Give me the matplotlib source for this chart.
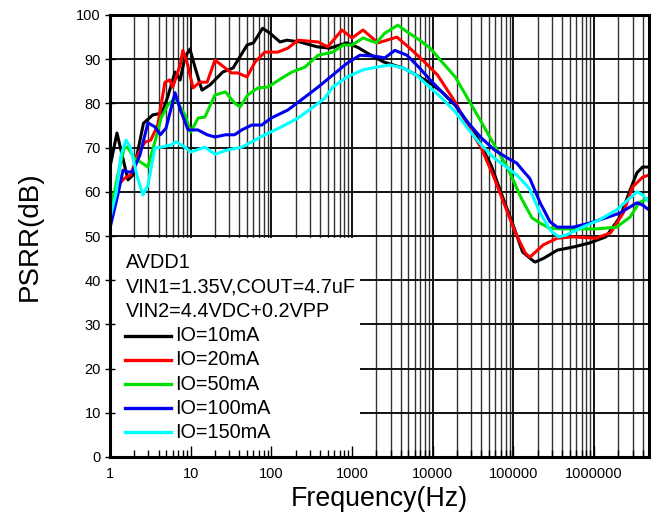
import matplotlib
matplotlib.use("Agg")
import matplotlib.pyplot as plt
from matplotlib.patches import Rectangle
from matplotlib.ticker import LogLocator, NullFormatter, FixedLocator

plt.rcParams['font.family'] = ['Liberation Sans', 'DejaVu Sans']

# ---------------- data ----------------
f_10 = [1, 1.22, 1.67, 1.93, 2.2, 2.6, 3.4, 4.4, 5.2, 6.4, 7.4, 8.5, 9.8, 11.3, 13.8, 17.4, 25, 33.5,
        50, 60, 78, 96, 128, 156, 226, 370, 530, 860, 1200, 1540, 2450, 4300, 6300, 9300, 13000,
        19000, 33000, 53000, 72000, 96000, 130000, 170000, 186000, 240000, 350000, 550000, 870000,
        1.4e6, 2.1e6, 2.8e6, 3.4e6, 4e6, 4.8e6]
p_10 = [65.6, 73.3, 62.7, 63.8, 69, 75.5, 77.4, 77.8, 81.5, 87.1, 85.3, 90.5, 92.3, 88.2, 83, 84.2, 87.1, 88,
        93.2, 93.7, 97, 95.9, 93.9, 94.3, 93.9, 92.8, 92.5, 93.7, 92.6, 91.4, 89.4, 88, 86.4, 84.6, 82.6,
        79.6, 73.5, 66, 59.3, 53.2, 46.4, 44.6, 44.1, 45, 46.8, 47.5, 48.4,
        49.8, 54.3, 60.4, 64.3, 65.6, 65.6]

f_20 = [1, 1.25, 1.5, 1.8, 2.2, 2.7, 3.2, 3.9, 4.8, 5.5, 6.0, 7.4, 8.0, 9.2, 10.7, 13, 16, 20, 32, 38,
        50, 63, 83, 120, 160, 215, 285, 380, 500, 750, 1000, 1370, 2100, 3600, 5200, 7900, 11500,
        19000, 27000, 40000, 58000, 78000, 105000, 140000, 160000, 235000, 350000, 550000, 1.05e6,
        1.6e6, 2.3e6, 3e6, 4e6, 4.8e6]
p_20 = [57, 61.5, 63, 63.8, 68.3, 71.2, 71.7, 75.1, 84.8, 85.3, 83.7, 88.7, 92, 88.7, 83.5, 84.8, 84.8, 89.8, 86.9, 86.9,
        86, 89.4, 91.6, 91.6, 92.5, 94.3, 94.1, 93.9, 92.8, 96.6, 94.8, 96.6, 93.7, 95, 92.5, 89.4, 86.4,
        80.3, 75.1, 69.9, 63.1, 57, 50.9, 46.2, 45.2, 48, 49.5, 49.8, 49.5,
        50.7, 55.2, 61.1, 63.3, 63.8]

f_50 = [1, 1.25, 1.5, 1.65, 2, 2.4, 2.95, 3.6, 4.3, 5.2, 6.4, 8.5, 10, 12.4, 15, 20, 27, 35, 41, 51, 68,
        91, 134, 180, 260, 380, 575, 780, 1000, 1370, 2000, 2550, 3700, 4800, 6900, 9300, 13000,
        19000, 27000, 40000, 58000, 85000, 125000, 170000, 215000, 280000, 400000, 1.05e6, 1.9e6,
        2.8e6, 3.6e6, 4.8e6]
p_50 = [54.8, 63.8, 69.9, 70.1, 67.6, 66.7, 65.6, 71.3, 76.7, 79.6, 81.2, 77.4, 73.5, 76.7, 76.9, 81.9, 82.6, 80.1, 79.2, 81.9, 83.5,
        83.7, 85.7, 87.1, 88.2, 90.9, 91.6, 93.2, 93.2, 94.8, 93.7, 95.9, 97.7, 96.2, 94.3, 92.5, 89.4,
        86, 81.2, 75.8, 70.6, 65.4, 58.6, 54.1, 52.9, 51.8, 51.6, 51.6, 52,
        54.3, 57.5, 58.6]

f_100 = [1, 1.25, 1.45, 1.65, 1.9, 2.35, 2.95, 3.6, 4.2, 4.95, 6.4, 7.6, 9.3, 12.3, 16, 20, 27, 35, 43, 57,
         76, 100, 160, 260, 380, 575, 870, 1250, 1900, 2550, 3400, 4800, 6900, 9300, 13000, 19000,
         27000, 40000, 58000, 85000, 110000, 130000, 160000, 215000, 285000, 350000, 550000, 870000,
         1.4e6, 2.1e6, 2.8e6, 3.4e6, 4e6, 4.8e6]
p_100 = [51.8, 59.3, 64.9, 64.5, 64.5, 68.3, 75.6, 74.7, 72.9, 74.4, 82.4, 78.1, 74, 74, 72.9, 72.4, 72.9, 72.9, 74, 75.1,
         75.1, 76.7, 78.5, 81.4, 83.7, 86.4, 89.1, 90.9, 90.7, 90.3, 92, 90.9, 88, 85.3, 82.6, 79.6,
         75.8, 72.2, 69.5, 67.6, 66.5, 64.9, 63, 57.5, 53.2, 52, 52, 52.9,
         54.1, 55.2, 56.6, 57.5, 57, 55.9]

f_150 = [1, 1.2, 1.37, 1.58, 1.8, 2.2, 2.56, 2.95, 3.6, 4.3, 5.7, 6.6, 8.5, 10, 15, 20, 29, 43, 57, 83,
         134, 215, 320, 460, 575, 870, 1370, 2000, 2950, 4300, 6300, 9000, 13000, 19000, 27000,
         40000, 58000, 85000, 110000, 145000, 160000, 215000, 285000, 360000, 450000, 720000,
         1.15e6, 1.9e6, 2.8e6, 3.4e6, 4e6, 4.8e6]
p_150 = [54, 60, 68.3, 71.7, 69.9, 63.1, 59.3, 61.5, 69.9, 70.1, 70.6, 71.3, 70.1, 69, 70.1, 68.5, 69.5, 70.1, 71.3, 72.9,
         74.7, 76.7, 79, 81.2, 83.7, 86, 87.6, 88.2, 88.7, 88, 86.4, 83.8, 81.2, 78.1, 74.4,
         70.6, 67.6, 65.4, 63.8, 61.5, 60.5, 55.2, 51.4, 49.8, 50.2, 52,
         53.6, 55.9, 58.6, 60, 59.3, 57.7]

series_labels = ["IO=10mA", "IO=20mA", "IO=50mA", "IO=100mA", "IO=150mA"]
series_colors = ["#000000", "#ff0000", "#00e000", "#0000ee", "#00ffff"]
header_lines = ["AVDD1", "VIN1=1.35V,COUT=4.7uF", "VIN2=4.4VDC+0.2VPP"]
x_ticks = [1, 10, 100, 1000, 10000, 100000, 1000000]
x_tick_labels = ["1", "10", "100", "1000", "10000", "100000", "1000000"]
y_ticks = [0, 10, 20, 30, 40, 50, 60, 70, 80, 90, 100]

xmin, xmax = 1, 4.8e6

# ---------------- figure ----------------
fig = plt.figure(figsize=(6.6, 5.23), dpi=100)
rect = [110/660, 1 - 457/523, 539/660, 442/523]

# background axes for the grid
gax = fig.add_axes(rect, zorder=0)
gax.set_xscale('log')
gax.set_xlim(xmin, xmax)
gax.set_ylim(0, 100)
gax.xaxis.set_major_locator(FixedLocator(x_ticks))
gax.xaxis.set_minor_locator(LogLocator(base=10, subs=range(2, 10), numticks=20))
gax.yaxis.set_major_locator(FixedLocator(y_ticks))
gax.grid(True, which='major', axis='both', color='#111111', lw=1.4)
gax.grid(True, which='minor', axis='x', color='#333333', lw=1.0)
gax.tick_params(which='both', length=0, labelbottom=False, labelleft=False)
for s in gax.spines.values():
    s.set_visible(False)

# main axes
ax = fig.add_axes(rect, zorder=1)
ax.patch.set_alpha(0)
ax.set_xscale('log')
ax.set_xlim(xmin, xmax)
ax.set_ylim(0, 100)

for fx, py, lab, col in zip([f_10, f_20, f_50, f_100, f_150],
                            [p_10, p_20, p_50, p_100, p_150],
                            series_labels, series_colors):
    ax.plot(fx, py, color=col, lw=2.2, zorder=2, solid_joinstyle='round', solid_capstyle='round')

ax.set_xticks(x_ticks)
ax.set_xticklabels(x_tick_labels)
ax.xaxis.set_minor_locator(LogLocator(base=10, subs=range(2, 10), numticks=20))
ax.xaxis.set_minor_formatter(NullFormatter())
ax.set_yticks(y_ticks)
ax.tick_params(axis='x', which='major', direction='in', length=8, width=1, labelsize=10.5, pad=7)
ax.tick_params(axis='x', which='minor', direction='in', length=5, width=1)
ax.tick_params(axis='y', which='major', direction='inout', length=7, width=1, labelsize=10.5, pad=3)
for s in ax.spines.values():
    s.set_linewidth(2.2)
    s.set_zorder(5)

# legend box (white, covering grid)
bx_w, bx_h = 0.464, 0.495
ax.add_patch(Rectangle((0, 0), bx_w, bx_h, transform=ax.transAxes, facecolor='white',
                       edgecolor='none', zorder=1.5))
x_text = 0.0297
row0 = (457 - 263) / 442
dy = 24.2 / 442
for i, t in enumerate(header_lines):
    ax.text(x_text, row0 - i * dy, t, transform=ax.transAxes, fontsize=14.3,
            va='center', ha='left', zorder=3)
for j, (lab, col) in enumerate(zip(series_labels, series_colors)):
    yy = row0 - (len(header_lines) + j) * dy
    ax.plot([0.028, 0.113], [yy, yy], transform=ax.transAxes, color=col, lw=2.4, zorder=3)
    ax.text(0.121, yy, lab, transform=ax.transAxes, fontsize=14.3,
            va='center', ha='left', zorder=3)

ax.set_xlabel("Frequency(Hz)", fontsize=19.3, labelpad=4)
ax.set_ylabel("PSRR(dB)", fontsize=20, labelpad=24)

fig.savefig("out.png", dpi=100)
